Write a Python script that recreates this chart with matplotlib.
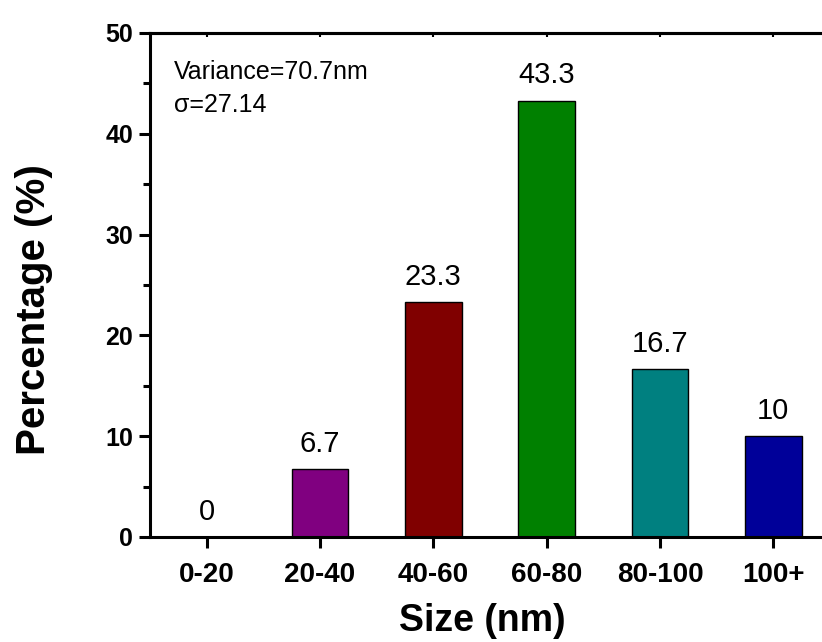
import matplotlib
matplotlib.use("Agg")
import matplotlib.pyplot as plt
from matplotlib.ticker import MultipleLocator

categories = ["0-20", "20-40", "40-60", "60-80", "80-100", "100+"]
percentages = [0, 6.7, 23.3, 43.3, 16.7, 10]
bar_labels = ["0", "6.7", "23.3", "43.3", "16.7", "10"]
bar_colors = ["#800080", "#800080", "#800000", "#008000", "#008080", "#000099"]

plt.rcParams['font.family'] = ['Liberation Sans', 'DejaVu Sans']

W, H = 822, 642
fig = plt.figure(figsize=(W / 100, H / 100), dpi=100)
ax = fig.add_axes([150 / W, 1 - 537 / H, 680 / W, (537 - 33) / H])

x = list(range(len(categories)))
bars = ax.bar(x, percentages, width=0.5, color=bar_colors, edgecolor="black", linewidth=1.0)
for xi, v, lab in zip(x, percentages, bar_labels):
    ax.annotate(lab, (xi, v), xytext=(0, 8), textcoords="offset points",
                ha="center", va="bottom", fontsize=21)

ax.set_xlim(-0.5, 5.5)
ax.set_ylim(0, 50)
ax.set_xticks(x)
ax.set_xticklabels(categories, fontsize=20, fontweight="bold")
ax.yaxis.set_major_locator(MultipleLocator(10))
ax.yaxis.set_minor_locator(MultipleLocator(5))
for lab in ax.get_yticklabels():
    lab.set_fontsize(18)
    lab.set_fontweight("bold")

ax.tick_params(axis="x", which="major", direction="out", length=8, width=2.2, pad=10)
ax.tick_params(axis="y", which="major", direction="out", length=8, width=2.2, pad=4)
ax.tick_params(axis="y", which="minor", direction="out", length=5, width=2.2)

top = ax.secondary_xaxis("top")
top.set_xticks(x)
top.set_xticklabels([])
top.tick_params(direction="in", length=3, width=1.5)
top.spines["top"].set_linewidth(2.2)

for s in ["left", "bottom", "top"]:
    ax.spines[s].set_linewidth(2.2)
ax.spines["right"].set_visible(False)

ax.set_xlabel("Size (nm)", fontsize=27, fontweight="bold")
ax.xaxis.set_label_coords((482 - 150) / 680, -(639 - 537) / 504, transform=ax.transAxes)
ax.xaxis.label.set_va("bottom")
ax.set_ylabel("Percentage (%)", fontsize=29, fontweight="bold")
ax.yaxis.set_label_coords(-(150 - 53) / 680, (537 - 310) / 504, transform=ax.transAxes)

ax.text(174, H - 79, "Variance=70.7nm", transform=None, fontsize=18,
        ha="left", va="baseline")
ax.text(174, H - 112, "σ=27.14", transform=None, fontsize=18,
        ha="left", va="baseline")

fig.savefig("out.png", dpi=100)
